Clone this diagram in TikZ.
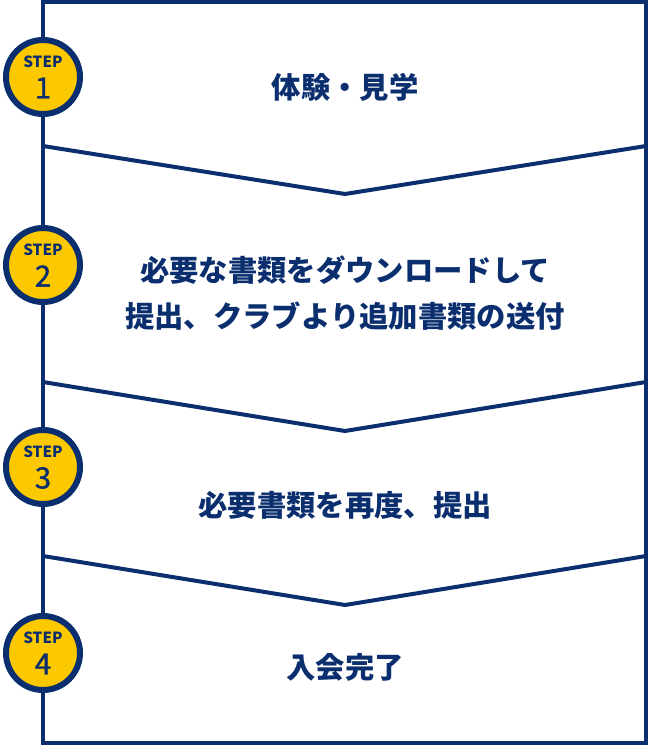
\documentclass[tikz,border=0pt]{standalone}
\usepackage{fontspec}
\setmainfont{Noto Sans CJK JP}
\newfontfamily\numfont{Noto Sans CJK JP}[FakeBold=1.2]
\usetikzlibrary{positioning}
\definecolor{navy}{HTML}{0B2F6E}
\definecolor{gold}{HTML}{FCC800}

\begin{document}
\begin{tikzpicture}[x=0.75pt,y=-0.75pt]
\useasboundingbox (0,0) rectangle (649,746);
\tikzset{frame/.style={draw=navy, line width=3pt},
  stepcircle/.style={circle, draw=navy, fill=gold, line width=4.5pt, minimum size=55.5pt, inner sep=0pt},
  steplabel/.style={text=navy, font=\fontsize{11.5}{11.5}\selectfont\bfseries, inner sep=0pt},
  stepnum/.style={text=navy, font=\fontsize{22}{22}\selectfont\numfont, inner sep=0pt},
  maintext/.style={text=navy, font=\fontsize{22}{34.5}\selectfont\bfseries, align=center, inner sep=0pt}}
% frame
\draw[frame] (43,2) rectangle (646,743);
% chevrons
\coordinate (l1) at (43,146);
\coordinate (m1) at (345,194);
\coordinate (r1) at (646,146);
\coordinate (l2) at (43,382);
\coordinate (m2) at (345,431);
\coordinate (r2) at (646,382);
\coordinate (l3) at (43,556);
\coordinate (m3) at (345,605);
\coordinate (r3) at (646,556);
\draw[frame, line join=miter] (l1) -- (m1) -- (r1);
\draw[frame, line join=miter] (l2) -- (m2) -- (r2);
\draw[frame, line join=miter] (l3) -- (m3) -- (r3);
% step circles
\node[stepcircle] (s1) at (43,77) {};
\node[stepcircle] (s2) at (43,265) {};
\node[stepcircle] (s3) at (43,467) {};
\node[stepcircle] (s4) at (43,653) {};
\node[steplabel] (s1a) at (43,62) {STEP};
\node[stepnum] (s1b) at (43,88) {1};
\node[steplabel] (s2a) at (43,250) {STEP};
\node[stepnum] (s2b) at (43,276) {2};
\node[steplabel] (s3a) at (43,452) {STEP};
\node[stepnum] (s3b) at (43,478) {3};
\node[steplabel] (s4a) at (43,638) {STEP};
\node[stepnum] (s4b) at (43,664) {4};
% texts
\node[maintext] (t1) at (345,87) {体験・見学};
\node[maintext] (t2) at (345,293) {必要な書類をダウンロードして\\提出、クラブより追加書類の送付};
\node[maintext] (t3) at (345,505) {必要書類を再度、提出};
\node[maintext] (t4) at (345,667) {入会完了};
\end{tikzpicture}
\end{document}
